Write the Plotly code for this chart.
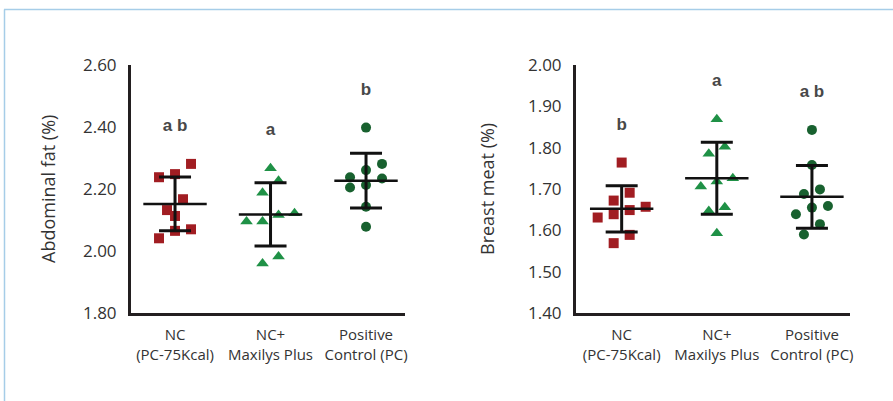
import plotly.graph_objects as go

# ---------------- data ----------------
group_labels = ["NC<br>(PC-75Kcal)", "NC+<br>Maxilys Plus", "Positive<br>Control (PC)"]

fat_nc = [2.281, 2.248, 2.238, 2.167, 2.132, 2.113, 2.070, 2.065, 2.041]
fat_ncplus = [2.267, 2.227, 2.188, 2.122, 2.116, 2.095, 2.095, 1.982, 1.960]
fat_pc = [2.398, 2.281, 2.261, 2.238, 2.234, 2.213, 2.205, 2.143, 2.078]
fat_mean = [2.152, 2.118, 2.227]
fat_sd = [0.087, 0.102, 0.088]
fat_letters = ["ab", "a", "b"]
fat_ticks = [1.80, 2.00, 2.20, 2.40, 2.60]

breast_nc = [1.764, 1.691, 1.672, 1.657, 1.649, 1.639, 1.631, 1.589, 1.569]
breast_ncplus = [1.869, 1.802, 1.785, 1.726, 1.718, 1.706, 1.656, 1.647, 1.593]
breast_pc = [1.843, 1.758, 1.699, 1.688, 1.659, 1.655, 1.639, 1.615, 1.590]
breast_mean = [1.652, 1.726, 1.681]
breast_sd = [0.056, 0.087, 0.076]
breast_letters = ["b", "a", "ab"]
breast_ticks = [1.40, 1.50, 1.60, 1.70, 1.80, 1.90, 2.00]

# ---------------- layout geometry ----------------
W, H = 893, 401
TOP, BOT = 65, 313
panels = [
    dict(x0=131, x1=405, xr=[-0.461, 2.408], yr=[1.8, 2.6],
         groups=[fat_nc, fat_ncplus, fat_pc], mean=fat_mean, sd=fat_sd,
         letters=fat_letters, ticks=fat_ticks, title="Abdominal fat (%)", tx=48),
    dict(x0=576, x1=850, xr=[-0.48, 2.40], yr=[1.4, 2.0],
         groups=[breast_nc, breast_ncplus, breast_pc], mean=breast_mean, sd=breast_sd,
         letters=breast_letters, ticks=breast_ticks, title="Breast meat (%)", tx=487),
]

styles = [
    dict(symbol="square", color="#a11d22", size=10),
    dict(symbol="triangle-up", color="#1f9146", size=11),
    dict(symbol="circle", color="#18612f", size=10),
]


def swarm(values, ypx, xpx, step=16, gap=12.2, spread=14):
    order = sorted(range(len(values)), key=lambda k: -values[k])
    bins, cur, prev = [], [], None
    for k in order:
        if cur and ((values[prev] - values[k]) * ypx > gap or
                    (values[cur[0]] - values[k]) * ypx > spread):
            bins.append(cur)
            cur = []
        cur.append(k)
        prev = k
    bins.append(cur)
    offs = [0.0] * len(values)
    for b in bins:
        n = len(b)
        for j, k in enumerate(b):
            offs[k] = ((n - 1) / 2 - j) * step / xpx
    return offs


fig = go.Figure()
axis_font = dict(family="Open Sans", size=17, color="#333333")
cat_font = dict(family="Open Sans", size=15, color="#333333")

for p_i, p in enumerate(panels):
    xa = "x" if p_i == 0 else "x2"
    ya = "y" if p_i == 0 else "y2"
    xpx = (p["x1"] - p["x0"]) / (p["xr"][1] - p["xr"][0])
    ypx = (BOT - TOP) / (p["yr"][1] - p["yr"][0])
    for g, vals in enumerate(p["groups"]):
        offs = swarm(vals, ypx, xpx)
        st = styles[g]
        fig.add_trace(go.Scatter(
            x=[g + o for o in offs], y=vals, mode="markers", xaxis=xa, yaxis=ya,
            marker=dict(symbol=st["symbol"], color=st["color"], size=st["size"],
                        line=dict(width=0)),
            showlegend=False, hoverinfo="y"))
    hw = 31.7 / xpx
    mx, my = [], []
    for g, m in enumerate(p["mean"]):
        mx += [g - hw, g + hw, None]
        my += [m, m, None]
    fig.add_trace(go.Scatter(x=mx, y=my, mode="lines", xaxis=xa, yaxis=ya,
                             line=dict(color="#111111", width=2.5),
                             showlegend=False, hoverinfo="skip"))
    fig.add_trace(go.Scatter(
        x=list(range(3)), y=p["mean"], mode="markers", xaxis=xa, yaxis=ya,
        marker=dict(size=1, color="rgba(0,0,0,0)"),
        error_y=dict(type="data", array=p["sd"], visible=True, width=16,
                     thickness=3, color="#111111"),
        showlegend=False, hoverinfo="skip"))
    ly = [max(v) + 37 / ypx for v in p["groups"]]
    fig.add_trace(go.Scatter(
        x=list(range(3)), y=ly, mode="text", xaxis=xa, yaxis=ya,
        text=[" ".join(s) for s in p["letters"]],
        textposition="middle center",
        textfont=dict(family="Liberation Sans, Arial", size=17, color="#484848",
                      weight="bold"),
        showlegend=False, hoverinfo="skip", cliponaxis=False))
    xdom = [p["x0"] / W, p["x1"] / W]
    ydom = [1 - BOT / H, 1 - TOP / H]
    xkw = dict(domain=xdom, range=p["xr"], tickvals=[0, 1, 2], ticktext=group_labels,
               showline=True, linewidth=3, linecolor="#231f20", showgrid=False,
               zeroline=False, ticks="outside", ticklen=6, tickcolor="rgba(0,0,0,0)",
               tickfont=cat_font, anchor=ya, fixedrange=True, automargin=False)
    ykw = dict(domain=ydom, range=p["yr"], tickvals=p["ticks"], tickformat=".2f",
               showline=True, linewidth=3, linecolor="#231f20", showgrid=False,
               zeroline=False, ticks="outside", ticklen=8, tickcolor="rgba(0,0,0,0)",
               tickfont=axis_font, anchor=xa, fixedrange=True, automargin=False)
    if p_i == 0:
        fig.update_layout(xaxis=xkw, yaxis=ykw)
    else:
        fig.update_layout(xaxis2=xkw, yaxis2=ykw)
    fig.add_annotation(text=p["title"], xref="paper", yref="paper",
                       x=p["tx"] / W, y=1 - 189 / H, textangle=-90,
                       xanchor="center", yanchor="middle", showarrow=False,
                       font=dict(family="Open Sans", size=18, color="#333333"))

# light blue frame (top and left edges visible)
fig.add_shape(type="line", xref="paper", yref="paper", x0=4 / W, x1=1.0,
              y0=1 - 9.5 / H, y1=1 - 9.5 / H, line=dict(color="#a6cde8", width=1.5))
fig.add_shape(type="line", xref="paper", yref="paper", x0=4.5 / W, x1=4.5 / W,
              y0=0, y1=1 - 9.5 / H, line=dict(color="#a6cde8", width=1.5))

fig.update_layout(width=W, height=H, margin=dict(l=0, r=0, t=0, b=0, pad=0),
                  autosize=False, template="none",
                  paper_bgcolor="white", plot_bgcolor="white")

fig.write_html("out.html",
               config={"displayModeBar": False, "staticPlot": True},
               post_script="document.body.style.margin='0';"
                           "document.body.style.overflow='hidden';")
